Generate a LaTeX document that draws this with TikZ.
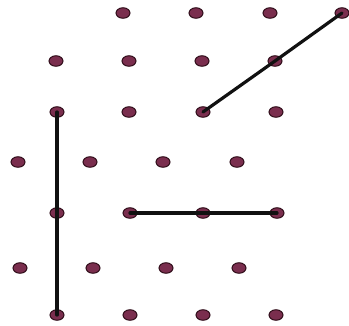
\documentclass[tikz,border=0pt]{standalone}
\usepackage{xcolor}
\usepackage{tikz}
\usetikzlibrary{calc,shapes.geometric}
\definecolor{dotFill}{HTML}{7A2E4E}
\definecolor{dotEdge}{HTML}{2E0C18}
\definecolor{segInk}{HTML}{111111}
\tikzset{
  dot/.style={ellipse, draw=dotEdge, line width=1pt, fill=dotFill,
              minimum width=14pt, minimum height=10.5pt, inner sep=0pt},
  seg/.style={draw=segInk, line width=3.2pt, line cap=round}
}
\begin{document}
\begin{tikzpicture}[x=1pt, y=-1pt]
  \useasboundingbox[fill=white] (0,0) rectangle (349,325);
  \foreach \x [count=\i] in {123,196,270,342} \node[dot] (r1-\i) at (\x,13) {};
  \foreach \x [count=\i] in {56,129,202,275} \node[dot] (r2-\i) at (\x,61) {};
  \foreach \x [count=\i] in {57,129,203,276} \node[dot] (r3-\i) at (\x,112) {};
  \foreach \x [count=\i] in {18,90,163,237} \node[dot] (r4-\i) at (\x,162) {};
  \foreach \x [count=\i] in {57,130,203,277} \node[dot] (r5-\i) at (\x,213) {};
  \foreach \x [count=\i] in {20,93,166,239} \node[dot] (r6-\i) at (\x,268) {};
  \foreach \x [count=\i] in {57,130,203,276} \node[dot] (r7-\i) at (\x,315) {};
  \draw[seg] (r3-1.center) -- (r5-1.center) -- (r7-1.center);
  \draw[seg] (r5-2.center) -- (r5-3.center) -- (r5-4.center);
  \draw[seg] (r3-3.center) -- (r2-4.center) -- (r1-4.center);
\end{tikzpicture}
\end{document}
